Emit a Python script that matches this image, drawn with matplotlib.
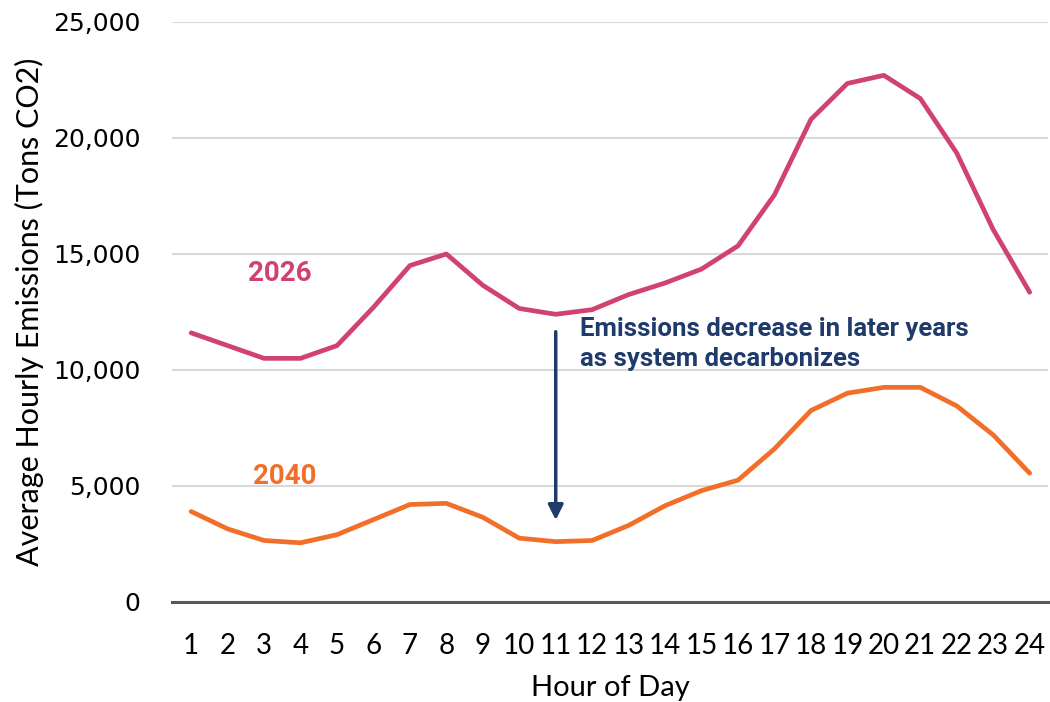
import matplotlib
matplotlib.use("Agg")
import matplotlib.pyplot as plt
from matplotlib.ticker import FuncFormatter

# Average hourly emissions by hour of day (tons CO2)
hours = list(range(1, 25))
emissions_2026 = [11600, 11050, 10500, 10500, 11050, 12700, 14500, 15000,
                  13650, 12650, 12400, 12600, 13250, 13750, 14350, 15350,
                  17550, 20800, 22350, 22700, 21700, 19350, 16050, 13350]
emissions_2040 = [3900, 3150, 2650, 2550, 2900, 3550, 4200, 4250,
                  3650, 2750, 2600, 2650, 3300, 4150, 4800, 5250,
                  6600, 8250, 9000, 9250, 9250, 8450, 7200, 5550]

color_2026 = "#D1436F"
color_2040 = "#F26F2A"
navy = "#1F3B6B"

plt.rcParams['font.family'] = ['Lato', 'DejaVu Sans']
bold_font = ['Roboto', 'DejaVu Sans']

fig = plt.figure(figsize=(10.5, 7.02), dpi=100)
ax = fig.add_axes([0.164, 0.1425, 0.834, 0.8262])

ax.plot(hours, emissions_2026, color=color_2026, lw=3.4, solid_capstyle='round', zorder=3)
ax.plot(hours, emissions_2040, color=color_2040, lw=3.4, solid_capstyle='round', zorder=3)

ax.set_xlim(0.48, 24.5)
ax.set_ylim(0, 25000)
ax.set_yticks(range(0, 25001, 5000))
ax.set_xticks(hours)
ax.yaxis.set_major_formatter(FuncFormatter(lambda v, p: f"{int(v):,}"))

# light horizontal grid, heavy zero line
ax.grid(axis='y', color='#D9D9D9', lw=1.5, zorder=0)
ax.grid(axis='x', visible=False)
for s in ['top', 'right', 'left']:
    ax.spines[s].set_visible(False)
ax.spines['bottom'].set_color('#595959')
ax.spines['bottom'].set_linewidth(2.2)
ax.spines['bottom'].set_zorder(4)

ax.tick_params(axis='both', length=0)
ax.tick_params(axis='y', pad=23, labelsize=18)
ax.tick_params(axis='x', pad=22, labelsize=20)
for lbl in ax.get_yticklabels():
    lbl.set_family('DejaVu Sans')

ax.set_xlabel("Hour of Day", fontsize=21, labelpad=12)
ax.set_ylabel("Average Hourly Emissions (Tons CO2)", fontsize=22, labelpad=6)

# series labels
ax.text(3.44, 14140, "2026", color=color_2026, fontsize=20, fontweight='bold',
        family=bold_font, ha='center', va='center')
ax.text(3.58, 5390, "2040", color=color_2040, fontsize=20, fontweight='bold',
        family=bold_font, ha='center', va='center')

# arrow showing the drop between the two years
ax.annotate("", xy=(11, 3530), xytext=(11, 11650),
            arrowprops=dict(arrowstyle='-|>,head_length=0.9,head_width=0.45',
                            color=navy, lw=2.5, shrinkA=0, shrinkB=0))
ax.text(11.66, 12300, "Emissions decrease in later years\nas system decarbonizes",
        color=navy, fontsize=18.5, fontweight='bold', family=bold_font,
        ha='left', va='top', linespacing=1.35)

fig.savefig("out.png", dpi=100)
